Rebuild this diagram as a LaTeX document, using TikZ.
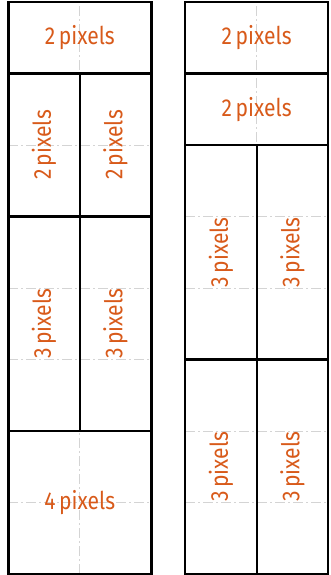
\documentclass[tikz,border=0pt]{standalone}
\usepackage{fontspec}
\setmainfont{Fira Sans}
\usepackage{xcolor}
\definecolor{sizelabel}{HTML}{D85A1A}
\definecolor{guide}{HTML}{D4D4D4}
\newcommand{\px}[1]{\scalebox{0.86}[1]{#1\hspace{0.17em}pixels}}

\begin{document}
\begin{tikzpicture}[x=71.5pt, y=71.5pt,
  cell/.style={draw=black, line width=2.4pt},
  guideline/.style={draw=guide, line width=0.9pt, dash pattern=on 10pt off 3pt on 2pt off 3pt},
  every node/.style={text=sizelabel, font=\fontsize{24.5}{24.5}\selectfont, inner sep=0pt}]
\useasboundingbox (-8.3pt,-1pt) rectangle (321.7pt,574pt);
% === Left strip: 2 / 2+2 / 3+3 / 4 ===
\draw[guideline, step=71.5pt] (0,0) grid (2,8);
\draw[cell] (0,7) rectangle ++(2,1);
\foreach \c in {0,1} {
  \draw[cell] (\c,5) rectangle ++(1,2);
  \draw[cell] (\c,2) rectangle ++(1,3);
}
\draw[cell] (0,0) rectangle ++(2,2);
\node (lTop) at (1,7.5) {\px{2}};
\node[rotate=90] (lTwoA) at (0.5,6) {\px{2}};
\node[rotate=90] (lTwoB) at (1.5,6) {\px{2}};
\node[rotate=90] (lThreeA) at (0.5,3.5) {\px{3}};
\node[rotate=90] (lThreeB) at (1.5,3.5) {\px{3}};
\node (lFour) at (1,1) {\px{4}};

% === Right strip: 2 / 2 / 3+3 / 3+3 ===
\begin{scope}[xshift=176.9pt]
\draw[guideline, step=71.5pt] (0,0) grid (2,8);
\draw[cell] (0,7) rectangle ++(2,1);
\draw[cell] (0,6) rectangle ++(2,1);
\foreach \c in {0,1} {
  \draw[cell] (\c,3) rectangle ++(1,3);
  \draw[cell] (\c,0) rectangle ++(1,3);
}
\node (rTop) at (1,7.5) {\px{2}};
\node (rNext) at (1,6.5) {\px{2}};
\node[rotate=90] (rUpA) at (0.5,4.5) {\px{3}};
\node[rotate=90] (rUpB) at (1.5,4.5) {\px{3}};
\node[rotate=90] (rLowA) at (0.5,1.5) {\px{3}};
\node[rotate=90] (rLowB) at (1.5,1.5) {\px{3}};
\end{scope}

\end{tikzpicture}
\end{document}
